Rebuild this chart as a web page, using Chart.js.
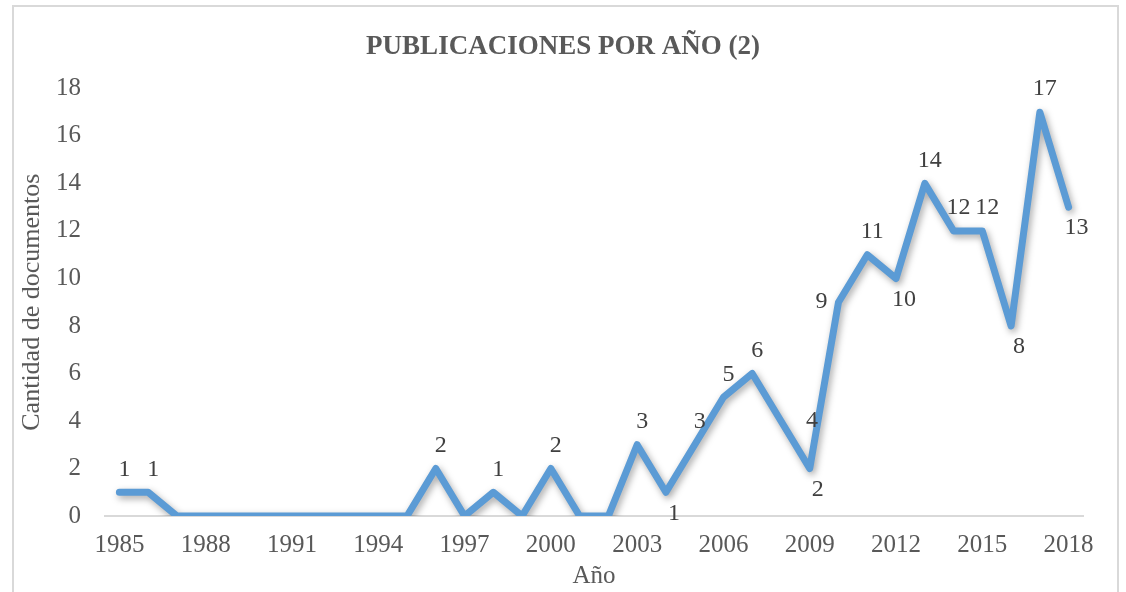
<!DOCTYPE html>
<html>
<head>
<meta charset="utf-8">
<script src="https://cdn.jsdelivr.net/npm/chart.js@4"></script>
<style>
  html, body { margin: 0; padding: 0; background: #fff; }
  #wrap { position: relative; width: 1126px; height: 592px; overflow: hidden; }
  #frame { position: absolute; left: 12px; top: 5px; width: 1107px; height: 620px; border: 2px solid #d9d9d9; box-sizing: border-box; }
  canvas { position: absolute; left: 0; top: 0; }
</style>
</head>
<body>
<div id="wrap">
  <div id="frame"></div>
  <canvas id="c" width="1126" height="592"></canvas>
</div>
<script>
const years = [1985,1986,1987,1988,1989,1990,1991,1992,1993,1994,1995,1996,1997,1998,1999,2000,2001,2002,2003,2004,2005,2006,2007,2008,2009,2010,2011,2012,2013,2014,2015,2016,2017,2018];
const documents = [1,1,0,0,0,0,0,0,0,0,0,2,0,1,0,2,0,0,3,1,3,5,6,4,2,9,11,10,14,12,12,8,17,13];
const labelPlacement = ['above','above','','','','','','','','','','above','','above','','above','','','above','below','above','above','above','right','below','left','above','below','above','above','above','below','above','below'];
const yTicks = { min: 0, max: 18, step: 2 };
const chartTitle = 'PUBLICACIONES POR AÑO (2)';
const xTitle = 'Año';
const yTitle = 'Cantidad de documentos';

const FONT = "'Liberation Serif', 'DejaVu Serif', serif";
const GREY = '#595959';

const shadowPlugin = {
  id: 'lineShadow',
  beforeDatasetDraw(chart) {
    const ctx = chart.ctx;
    ctx.save();
    ctx.shadowColor = 'rgba(0,0,0,0.35)';
    ctx.shadowBlur = 7;
    ctx.shadowOffsetX = 2;
    ctx.shadowOffsetY = 3;
  },
  afterDatasetDraw(chart) {
    chart.ctx.restore();
  }
};

const labelPlugin = {
  id: 'valueLabels',
  afterDatasetsDraw(chart) {
    const ctx = chart.ctx;
    const meta = chart.getDatasetMeta(0);
    ctx.save();
    ctx.font = "24px " + FONT;
    ctx.fillStyle = '#404040';
    ctx.textAlign = 'center';
    ctx.textBaseline = 'middle';
    meta.data.forEach((pt, i) => {
      const v = documents[i];
      const p = labelPlacement[i];
      if (!p || !v) return;
      let x = pt.x, y = pt.y;
      if (p === 'above') { y -= 23; x += 5; }
      else if (p === 'below') { y += 21; x += 8; }
      else if (p === 'left') { x -= 17; }
      else if (p === 'right') { x += 31; }
      ctx.fillText(String(v), x, y);
    });
    ctx.restore();
  }
};

new Chart(document.getElementById('c'), {
  type: 'line',
  data: {
    labels: years.map(String),
    datasets: [{
      data: documents,
      yAxisID: 'y',
      borderColor: '#5B9BD5',
      backgroundColor: '#5B9BD5',
      borderWidth: 7,
      borderCapStyle: 'round',
      borderJoinStyle: 'round',
      tension: 0,
      pointRadius: 0,
      pointHoverRadius: 0,
      fill: false
    }]
  },
  options: {
    responsive: false,
    animation: false,
    devicePixelRatio: 1,
    layout: { padding: { left: 0, right: 0, top: 0, bottom: 0 } },
    plugins: {
      legend: { display: false },
      tooltip: { enabled: false },
      title: {
        display: true,
        text: chartTitle,
        color: GREY,
        font: { family: FONT, size: 27, weight: 'bold' },
        padding: { top: 31, bottom: 25 }
      }
    },
    scales: {
      x: {
        offset: true,
        grid: { display: false, drawTicks: false },
        border: { display: true, color: '#d9d9d9', width: 2 },
        ticks: {
          autoSkip: false,
          maxRotation: 0,
          minRotation: 0,
          padding: 14,
          color: GREY,
          font: { family: FONT, size: 25 },
          callback: function(value, index) { return index % 3 === 0 ? this.getLabelForValue(value) : ''; }
        },
        title: {
          display: true,
          text: xTitle,
          color: GREY,
          font: { family: FONT, size: 25 },
          padding: { top: 0, bottom: 1 }
        },
        afterFit(scale) { scale.height = 76; }
      },
      y: {
        min: yTicks.min,
        max: yTicks.max,
        grid: { display: false, drawTicks: false },
        border: { display: false },
        ticks: {
          stepSize: yTicks.step,
          padding: 24,
          color: GREY,
          font: { family: FONT, size: 25 }
        },
        title: {
          display: true,
          text: yTitle,
          color: GREY,
          font: { family: FONT, size: 26 },
          padding: { top: 17, bottom: 0 }
        },
        afterFit(scale) { scale.width = 105; }
      },
      yRight: {
        position: 'right',
        min: yTicks.min,
        max: yTicks.max,
        grid: { display: false, drawTicks: false },
        border: { display: false },
        ticks: { display: false },
        afterFit(scale) { scale.width = 43; }
      }
    }
  },
  plugins: [shadowPlugin, labelPlugin]
});
</script>
</body>
</html>
